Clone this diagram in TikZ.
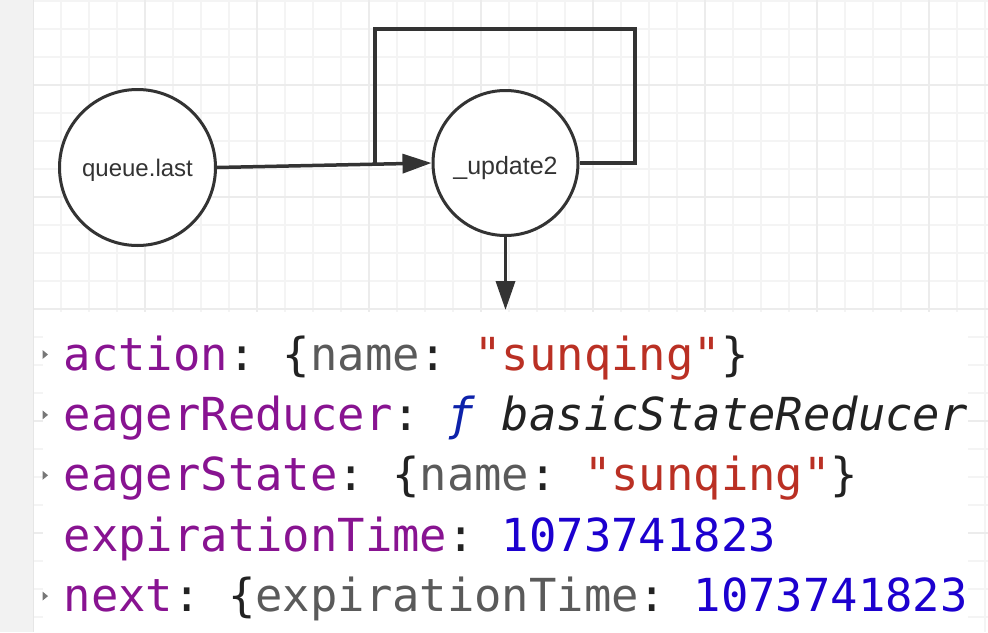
\documentclass[tikz,border=0pt]{standalone}
\usepackage{fontspec}
\setmonofont{DejaVu Sans Mono}
\newfontfamily\labelfont{Liberation Sans}
\usetikzlibrary{arrows.meta}
\definecolor{edge}{HTML}{333333}
\definecolor{gridminor}{HTML}{F4F4F4}
\definecolor{gridmajor}{HTML}{ECECEC}
\definecolor{strip}{HTML}{F2F2F2}
\definecolor{stripedge}{HTML}{E6E6E6}
\definecolor{keyc}{RGB}{136,19,145}
\definecolor{strc}{RGB}{186,48,36}
\definecolor{numc}{RGB}{28,0,207}
\definecolor{fnc}{RGB}{13,34,170}
\definecolor{punc}{HTML}{222222}
\definecolor{dimc}{HTML}{5A5A5A}
\definecolor{markc}{HTML}{777777}
\begin{document}
\begin{tikzpicture}[x=1pt,y=-1pt,
  circ/.style={circle,draw=edge,line width=3pt,fill=white,inner sep=0pt},
  lbl/.style={text=edge,inner sep=0pt,anchor=base},
  conn/.style={draw=edge,line width=3.5pt},
  arr/.style={conn,-{Triangle[length=29pt,width=19pt]}},
  code/.style={font=\ttfamily\fontsize{45.5}{50}\selectfont,inner sep=0pt,anchor=base west},
  expmark/.style={fill=markc}
]
\useasboundingbox (0,0) rectangle (988,632);
\fill[white] (0,0) rectangle (988,632);
% grid
\foreach \x in {33,61,...,988} \draw[gridminor,line width=1.3pt] (\x,0) -- (\x,632);
\foreach \y in {1,29,...,632} \draw[gridminor,line width=1.3pt] (33,\y) -- (988,\y);
\foreach \x in {33,145,...,988} \draw[gridmajor,line width=1.8pt] (\x,0) -- (\x,632);
\foreach \y in {85,197,...,632} \draw[gridmajor,line width=1.8pt] (33,\y) -- (988,\y);
% left strip
\fill[strip] (0,0) rectangle (32.5,632);
\draw[stripedge,line width=1pt] (33,0) -- (33,632);
% code area
\fill[white] (43,312) rectangle (967.5,632);

% diagram
\node[circ,minimum size=156pt] (q) at (137.5,167.5) {};
\node[lbl,font=\labelfont\fontsize{24}{28}\selectfont] (qt) at (137.5,176) {queue.last};
\node[circ,minimum size=145pt] (u) at (505.5,163) {};
\node[lbl,font=\labelfont\fontsize{25}{29}\selectfont] (ut) at (505.5,174) {\_update2};

\coordinate (lr) at (635,163);
\coordinate (rt) at (635,29);
\coordinate (lt) at (375,29);
\coordinate (j) at (375,164.8);
\coordinate (d) at (505.5,310);

\draw[arr] (q.east) -- (u.west);
\draw[conn] (u.east) -- (lr) -- (rt) -- (lt) -- (j);
\draw[arr] (u.south) -- (d);

% console lines
\node[code] (l1) at (63.5,370) {\textcolor{keyc}{action}\textcolor{punc}{: \{}\textcolor{dimc}{name}\textcolor{punc}{: }\textcolor{strc}{"sunqing"}\textcolor{punc}{\}}};
\node[code] (l2) at (63.5,430.4) {\textcolor{keyc}{eagerReducer}\textcolor{punc}{: }\textcolor{fnc}{\itshape ƒ}\textcolor{punc}{\itshape\ basicStateReducer}};
\node[code] (l3) at (63.5,490.8) {\textcolor{keyc}{eagerState}\textcolor{punc}{: \{}\textcolor{dimc}{name}\textcolor{punc}{: }\textcolor{strc}{"sunqing"}\textcolor{punc}{\}}};
\node[code] (l4) at (63.5,551.2) {\textcolor{keyc}{expirationTime}\textcolor{punc}{: }\textcolor{numc}{1073741823}};
\node[code] (l5) at (63.5,611.6) {\textcolor{keyc}{next}\textcolor{punc}{: \{}\textcolor{dimc}{expirationTime}\textcolor{punc}{: }\textcolor{numc}{1073741823}};

% expand markers
\foreach \b in {370,430.4,490.8,611.6}
  \fill[expmark] (42.5,\b-20) -- (48,\b-15.5) -- (42.5,\b-11) -- cycle;
\end{tikzpicture}
\end{document}
